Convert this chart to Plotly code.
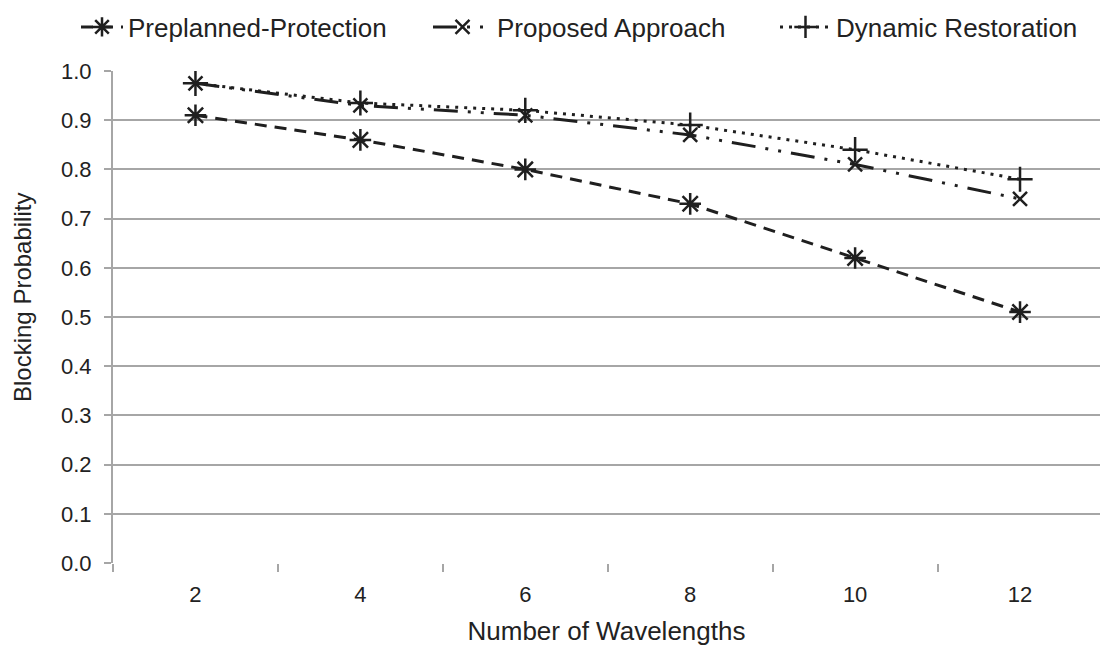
import plotly.graph_objects as go

# Number of wavelengths (category labels on the x axis)
wavelengths = ["2", "4", "6", "8", "10", "12"]

# Blocking probability for each scheme
preplanned_protection = [0.91, 0.86, 0.80, 0.73, 0.62, 0.51]
proposed_approach = [0.975, 0.93, 0.91, 0.87, 0.81, 0.74]
dynamic_restoration = [0.975, 0.935, 0.92, 0.89, 0.84, 0.78]

INK = "#1f1f1f"
TEXT = "#222222"
GRID = "#a6a6a6"
FONT = "Liberation Sans, Arial, sans-serif"
W, H = 1100, 646
ML, MR, MT, MB = 113, 0, 71, 83

fig = go.Figure()

fig.add_trace(go.Scatter(
    x=wavelengths, y=preplanned_protection, name="Preplanned-Protection",
    mode="lines+markers", legend="legend",
    line=dict(color=INK, width=3, dash="12px,8px"),
    marker=dict(symbol="asterisk-open", size=18, color=INK,
                line=dict(color=INK, width=2.5)),
))
fig.add_trace(go.Scatter(
    x=wavelengths, y=proposed_approach, name="Proposed Approach",
    mode="lines+markers", legend="legend2",
    line=dict(color=INK, width=3, dash="24px,10px,3px,10px,3px,10px"),
    marker=dict(symbol="x-thin-open", size=14, color=INK,
                line=dict(color=INK, width=2.5)),
))
fig.add_trace(go.Scatter(
    x=wavelengths, y=dynamic_restoration, name="Dynamic Restoration",
    mode="lines+markers", legend="legend3",
    line=dict(color=INK, width=3, dash="3px,6px"),
    marker=dict(symbol="cross-thin-open", size=18, color=INK,
                line=dict(color=INK, width=2.5)),
))


def legend_box(left_px, item_w):
    # one single-entry legend placed along the top row
    return dict(
        orientation="h", xref="container", yref="container",
        x=left_px / W, xanchor="left", y=1 - 27 / H, yanchor="middle",
        font=dict(size=26, color=TEXT), bgcolor="rgba(0,0,0,0)",
        itemwidth=item_w,
    )


plot_w = W - ML - MR
plot_h = H - MT - MB

fig.update_layout(
    width=W, height=H,
    margin=dict(l=ML, r=MR, t=MT, b=MB, autoexpand=False),
    paper_bgcolor="white", plot_bgcolor="white",
    font=dict(family=FONT, color=TEXT, size=22),
    showlegend=True,
    legend=legend_box(76, 42),
    legend2=legend_box(428, 59),
    legend3=legend_box(775, 51),
    xaxis=dict(
        type="category", range=[-0.5, 5.485],
        showgrid=False, zeroline=False,
        showline=False,
        ticks="outside", ticklen=8, tickwidth=2, tickcolor=GRID,
        tickson="boundaries", ticklabelstandoff=16,
        tickfont=dict(size=22, color=TEXT),
        title=dict(text="Number of Wavelengths", font=dict(size=26, color=TEXT),
                   standoff=22),
    ),
    yaxis=dict(
        range=[0, 1], dtick=0.1, tickformat=".1f",
        showgrid=True, gridcolor=GRID, gridwidth=2,
        zeroline=False,
        showline=True, linecolor=GRID, linewidth=2,
        ticks="outside", ticklen=7, tickwidth=2, tickcolor=GRID,
        ticklabelstandoff=8,
        tickfont=dict(size=22, color=TEXT),
    ),
    annotations=[dict(
        text="Blocking Probability", textangle=-90, showarrow=False,
        xref="paper", yref="paper",
        x=(22 - ML) / plot_w, y=(H - MB - 298) / plot_h,
        xanchor="center", yanchor="middle",
        font=dict(size=24, color=TEXT),
    )],
)

fig.write_html("out.html")
